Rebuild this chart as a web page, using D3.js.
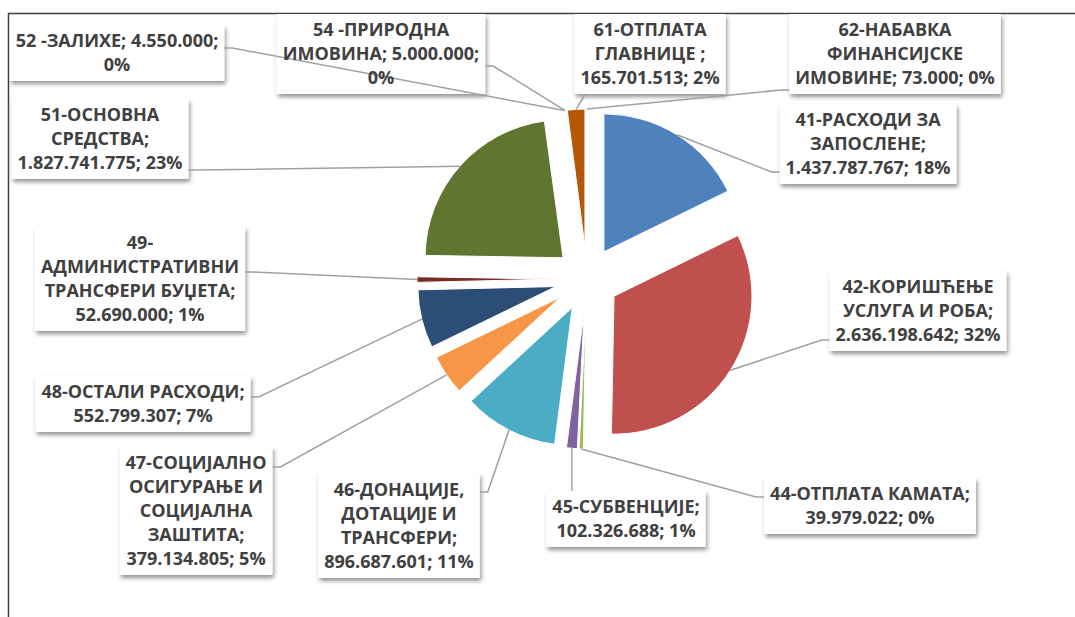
<!DOCTYPE html>
<html>
<head>
<meta charset="utf-8">
<script src="https://cdn.jsdelivr.net/npm/d3@7"></script>
<style>
  body { margin: 0; background: #fff; }
  svg { display: block; }
  .lbl text { font-family: "Open Sans", sans-serif; font-weight: 700; font-size: 18px; fill: #404040; }
</style>
</head>
<body>
<script>
// category names (\n = where the label wraps inside the name)
const categories = [
  "41-РАСХОДИ ЗА\nЗАПОСЛЕНЕ",
  "42-КОРИШЋЕЊЕ\nУСЛУГА И РОБА",
  "44-ОТПЛАТА КАМАТА",
  "45-СУБВЕНЦИЈЕ",
  "46-ДОНАЦИЈЕ,\nДОТАЦИЈЕ И\nТРАНСФЕРИ",
  "47-СОЦИЈАЛНО\nОСИГУРАЊЕ И\nСОЦИЈАЛНА\nЗАШТИТА",
  "48-ОСТАЛИ РАСХОДИ",
  "49-\nАДМИНИСТРАТИВНИ\nТРАНСФЕРИ БУЏЕТА",
  "51-ОСНОВНА\nСРЕДСТВА",
  "52 -ЗАЛИХЕ",
  "54 -ПРИРОДНА\nИМОВИНА",
  "61-ОТПЛАТА\nГЛАВНИЦЕ ",
  "62-НАБАВКА\nФИНАНСИЈСКЕ\nИМОВИНЕ"
];
const values = [1437787767, 2636198642, 39979022, 102326688, 896687601, 379134805,
                552799307, 52690000, 1827741775, 4550000, 5000000, 165701513, 73000];
// percentages as printed on the chart
const percents = [18, 32, 0, 1, 11, 5, 7, 1, 23, 0, 0, 2, 0];

const colors = ["#4F81BD", "#C0504D", "#9BBB59", "#8064A2", "#4BACC6", "#F79646", "#2C4D75",
                "#772C2A", "#5F7530", "#4D3B62", "#276A7C", "#B65708", "#729ACA"];

// label box placement: centre x, box top, leader side, anchor offset, where the value wraps
// tail: 1 = value on a new line, 2 = percent on a new line, 0 = no break
const labelLayout = [
  {cx: 868, top: 104, side: "left",   ay: 68, tail: 1},
  {cx: 918, top: 271, side: "left",   ay: 69, tail: 1},
  {cx: 870, top: 478, side: "left",   ay: 19, tail: 1},
  {cx: 626, top: 491, side: "top",            tail: 1},
  {cx: 399, top: 474, side: "right",  ay: 18, tail: 1},
  {cx: 196, top: 447, side: "right",  ay: 20, tail: 1},
  {cx: 143, top: 376, side: "right",  ay: 21, tail: 1},
  {cx: 140, top: 227, side: "right",  ay: 45, tail: 1},
  {cx: 100, top: 99,  side: "right",  ay: 71, tail: 1},
  {cx: 117, top: 25,  side: "right",  ay: 23, tail: 2},
  {cx: 381, top: 14,  side: "right",  ay: 52, tail: 2},
  {cx: 650, top: 14,  side: "bottom", ax: 11, tail: 1},
  {cx: 895, top: 14,  side: "left",   ay: 76, tail: 0}
];

const W = 1075, H = 617;
const cx = 587, cy = 279, R = 138, EXPLODE = 32;
const lineH = 24, padX = 6;

const fmt = d3.formatLocale({decimal: ",", thousands: ".", grouping: [3], currency: ["", ""]}).format(",d");

const data = categories.map((c, i) => ({name: c, value: values[i], pct: percents[i], color: colors[i], lay: labelLayout[i]}));

const svg = d3.select("body").append("svg").attr("width", W).attr("height", H);

const defs = svg.append("defs");
defs.append("filter").attr("id", "shadow")
  .attr("x", "-10%").attr("y", "-20%").attr("width", "130%").attr("height", "150%")
  .append("feDropShadow")
  .attr("dx", 1.5).attr("dy", 3).attr("stdDeviation", 2)
  .attr("flood-color", "#000").attr("flood-opacity", 0.42);

// chart frame (runs off the right and bottom)
svg.append("rect")
  .attr("x", 8.5).attr("y", 13.5).attr("width", W + 20).attr("height", H + 20)
  .attr("fill", "none").attr("stroke", "#404040").attr("stroke-width", 1.5);

const pie = d3.pie().sort(null).value(d => d.value);
const arcs = pie(data);
const arc = d3.arc().innerRadius(0).outerRadius(R);
const mid = d => (d.startAngle + d.endAngle) / 2;

const gPie = svg.append("g").attr("transform", `translate(${cx},${cy})`);
gPie.selectAll("path").data(arcs).join("path")
  .attr("transform", d => `translate(${EXPLODE * Math.sin(mid(d))},${-EXPLODE * Math.cos(mid(d))})`)
  .attr("d", arc)
  .attr("fill", d => d.data.color)
  .attr("stroke", "#fff").attr("stroke-width", 1);

// build label lines
function labelLines(d) {
  const parts = d.name.split("\n");
  const last = parts.pop();
  const v = fmt(d.value), p = d.pct + "%";
  const tail = d.lay.tail;
  if (tail === 1) parts.push(last + ";", v + "; " + p);
  else if (tail === 2) parts.push(last + "; " + v + ";", p);
  else parts.push(last + "; " + v + "; " + p);
  return parts;
}

const gLbl = svg.append("g").attr("class", "lbl");
const measure = gLbl.append("text").attr("visibility", "hidden");
function textW(s) { measure.text(s); return measure.node().getComputedTextLength(); }

const boxes = arcs.map(a => {
  const d = a.data, lines = labelLines(d);
  const w = d3.max(lines, textW) + 2 * padX;
  const h = lines.length * lineH + 8;
  return {a, d, lines, x: d.lay.cx - w / 2, y: d.lay.top, w, h};
});
measure.remove();

gLbl.selectAll("rect").data(boxes).join("rect")
  .attr("x", b => b.x).attr("y", b => b.y)
  .attr("width", b => b.w).attr("height", b => b.h)
  .attr("fill", "#fff").attr("filter", "url(#shadow)");

// leader lines
function leader(b) {
  const m = mid(b.a), k = EXPLODE + R;
  const px = cx + k * Math.sin(m), py = cy - k * Math.cos(m);
  const L = b.d.lay;
  if (L.side === "left") {
    const y = b.y + L.ay;
    return `M${b.x},${y}L${b.x - 8},${y}L${px},${py}`;
  }
  if (L.side === "right") {
    const y = b.y + L.ay;
    return `M${b.x + b.w},${y}L${b.x + b.w + 8},${y}L${px},${py}`;
  }
  if (L.side === "top") return `M${px},${b.y}L${px},${py}`;
  return `M${b.x + L.ax},${b.y + b.h}L${px},${py}`;
}

svg.append("g").selectAll("path").data(boxes).join("path")
  .attr("d", leader)
  .attr("fill", "none").attr("stroke", "#a0a0a0").attr("stroke-width", 1.5);

const gText = svg.append("g").attr("class", "lbl");
boxes.forEach(b => {
  gText.append("text")
    .attr("text-anchor", "middle")
    .selectAll("tspan").data(b.lines).join("tspan")
    .attr("x", b.d.lay.cx)
    .attr("y", (s, i) => b.y + 16 + i * lineH + 6)
    .text(s => s);
});
</script>
</body>
</html>
